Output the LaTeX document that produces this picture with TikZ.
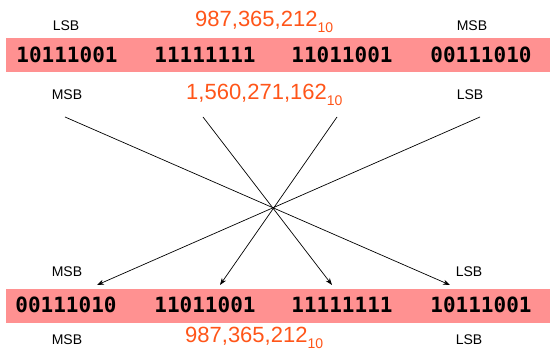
\documentclass[tikz,border=0pt]{standalone}
\usepackage{fontspec}
\setmainfont{Liberation Sans}
\newfontfamily\binfont{DejaVu Sans Mono}
\usetikzlibrary{arrows.meta}
\definecolor{bandred}{RGB}{255,145,145}
\definecolor{numorange}{RGB}{255,85,25}
\tikzset{
  band/.style={fill=bandred, draw=none},
  bits/.style={anchor=base, inner sep=0pt, font=\binfont\bfseries\fontsize{21}{21}\selectfont},
  sb/.style={anchor=base, inner sep=0pt, font=\fontsize{14}{14}\selectfont},
  dec/.style={anchor=base west, inner sep=0pt, text=numorange, font=\fontsize{22}{22}\selectfont},
  swap/.style={-{Stealth[length=7pt,width=5pt]}, line width=0.7pt}
}
\newcommand{\subten}{\raisebox{-5.5pt}{\fontsize{14}{14}\selectfont 10}}
\begin{document}
\begin{tikzpicture}[x=1pt,y=-1pt]
\useasboundingbox (0,0) rectangle (550,352);
% bands
\fill[band] (6,38) rectangle (550,72);
\fill[band] (6,289) rectangle (550,323);
% top labels
\node[sb] (tl) at (66,31) {LSB};
\node[sb] (tr) at (472,31) {MSB};
\node[dec] (topdec) at (195,27) {987,365,212\subten};
% top bits
\node[bits] (a1) at (67,63) {10111001};
\node[bits] (a2) at (205,63) {11111111};
\node[bits] (a3) at (342,63) {11011001};
\node[bits] (a4) at (481,63) {00111010};
% below top band
\node[sb] (ml) at (67,100) {MSB};
\node[sb] (mr) at (470,100) {LSB};
\node[dec] (middec) at (186,100) {1,560,271,162\subten};
% bottom labels
\node[sb] (bl) at (67,277) {MSB};
\node[sb] (br) at (469,277) {LSB};
\node[bits] (b1) at (66,313) {00111010};
\node[bits] (b2) at (205,313) {11011001};
\node[bits] (b3) at (342,313) {11111111};
\node[bits] (b4) at (481,313) {10111001};
\node[sb] (bbl) at (67,345) {MSB};
\node[sb] (bbr) at (469,345) {LSB};
\node[dec] (botdec) at (185,343) {987,365,212\subten};
% connector ends
\coordinate (s1) at (65,117);
\coordinate (s2) at (203,117);
\coordinate (s3) at (337,117);
\coordinate (s4) at (480,117);
\coordinate (e1) at (97,285);
\coordinate (e2) at (220,285);
\coordinate (e3) at (332,285);
\coordinate (e4) at (450,285);
\draw[swap] (s1) -- (e4);
\draw[swap] (s2) -- (e3);
\draw[swap] (s3) -- (e2);
\draw[swap] (s4) -- (e1);
\end{tikzpicture}
\end{document}
